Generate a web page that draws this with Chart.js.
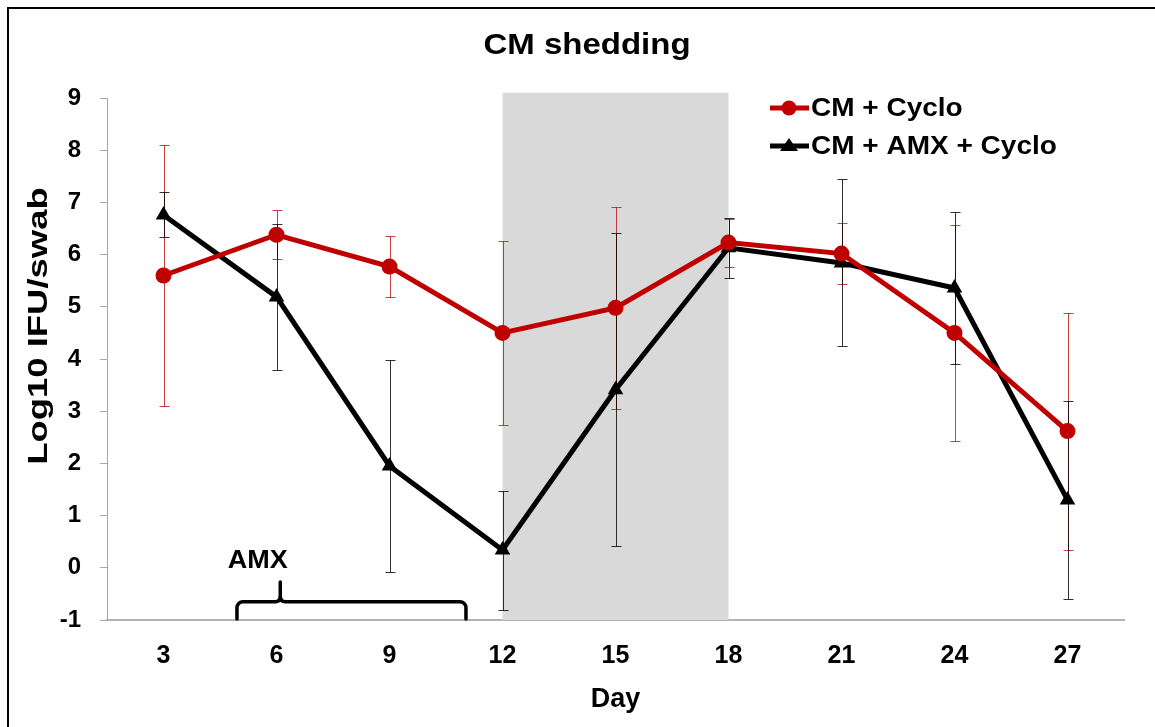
<!DOCTYPE html>
<html>
<head>
<meta charset="utf-8">
<script src="https://cdn.jsdelivr.net/npm/chart.js@4"></script>
<style>
  html, body { margin: 0; padding: 0; background: #fff; overflow: hidden; }
  #wrap { position: relative; width: 1155px; height: 727px; }
  #frame { position: absolute; left: 7px; top: 7px; width: 1160px; height: 740px; border: 2px solid #000; pointer-events: none; }
</style>
</head>
<body>
<div id="wrap">
  <canvas id="chart" width="1155" height="727"></canvas>
  <div id="frame"></div>
</div>
<script>
const days = [3, 6, 9, 12, 15, 18, 21, 24, 27];
const cycloMean = [5.6, 6.38, 5.77, 4.5, 4.98, 6.23, 6.02, 4.5, 2.62];
const cycloErr = [2.5, 0.47, 0.59, 1.76, 1.93, 0.46, 0.58, 2.07, 2.27];
const amxMean = [6.76, 5.19, 1.95, 0.34, 3.41, 6.13, 5.84, 5.36, 1.3];
const amxErr = [0.43, 1.4, 2.04, 1.14, 3.0, 0.58, 1.6, 1.45, 1.9];
const seriesNames = ['CM + Cyclo', 'CM + AMX + Cyclo'];
const shadeDays = [12, 18];
const amxDays = [4.95, 11.03];

const RED = '#C00000';
const FONT = '"Liberation Sans", Arial, sans-serif';

// text a bit wider than the font gives, like the original
function wideText(ctx, text, x, y, sx) {
    ctx.save();
    ctx.translate(x, y);
    ctx.scale(sx, 1);
    ctx.fillText(text, 0, 0);
    ctx.restore();
}

// gray box + error bars drawn under the lines
const backdrop = {
    id: 'backdrop',
    beforeDatasetsDraw(chart) {
        const ctx = chart.ctx;
        const x = chart.scales.x, y = chart.scales.y;
        ctx.save();
        ctx.fillStyle = '#D9D9D9';
        const x0 = x.getPixelForValue(shadeDays[0]);
        const x1 = x.getPixelForValue(shadeDays[1]);
        const yTop = y.getPixelForValue(9.1);
        const yBot = y.getPixelForValue(-1);
        ctx.fillRect(x0, yTop, x1 - x0, yBot - yTop);

        const bars = [[cycloMean, cycloErr, 'rgba(192,0,0,0.75)'], [amxMean, amxErr, 'rgba(0,0,0,0.8)']];
        bars.forEach(([mean, err, col]) => {
            ctx.strokeStyle = col;
            ctx.lineWidth = 1;
            days.forEach((d, i) => {
                const px = Math.round(x.getPixelForValue(d)) + 0.5;
                const hi = Math.round(y.getPixelForValue(mean[i] + err[i])) + 0.5;
                const lo = Math.round(y.getPixelForValue(mean[i] - err[i])) + 0.5;
                ctx.beginPath();
                ctx.moveTo(px, hi); ctx.lineTo(px, lo);
                ctx.moveTo(px - 5, hi); ctx.lineTo(px + 5, hi);
                ctx.moveTo(px - 5, lo); ctx.lineTo(px + 5, lo);
                ctx.stroke();
            });
        });
        ctx.restore();
    }
};

// title, legend, axis title, AMX bracket
const extras = {
    id: 'extras',
    afterDraw(chart) {
        const ctx = chart.ctx;
        const x = chart.scales.x, y = chart.scales.y;
        ctx.save();
        ctx.fillStyle = '#000';
        ctx.textAlign = 'center';
        ctx.textBaseline = 'middle';
        ctx.font = 'bold 30px ' + FONT;
        wideText(ctx, 'CM shedding', 587, 46, 1.1);

        ctx.save();
        ctx.translate(40, 326);
        ctx.rotate(-Math.PI / 2);
        ctx.font = 'bold 27px ' + FONT;
        wideText(ctx, 'Log10 IFU/swab', 0, 0, 1.35);
        ctx.restore();

        // legend
        const rows = [[RED, 'circle', 108], ['#000', 'triangle', 146]];
        ctx.font = 'bold 25px ' + FONT;
        ctx.textAlign = 'left';
        rows.forEach(([col, shape, ly], i) => {
            ctx.strokeStyle = col;
            ctx.fillStyle = col;
            ctx.lineWidth = 5;
            ctx.beginPath();
            ctx.moveTo(770, ly); ctx.lineTo(809, ly);
            ctx.stroke();
            ctx.beginPath();
            if (shape === 'circle') {
                ctx.arc(789, ly, 7.5, 0, Math.PI * 2);
            } else {
                ctx.moveTo(789, ly - 8); ctx.lineTo(798, ly + 5); ctx.lineTo(780, ly + 5); ctx.closePath();
            }
            ctx.fill();
            ctx.fillStyle = '#000';
            wideText(ctx, seriesNames[i], 811, ly + 1, 1.12);
        });

        // AMX bracket
        const bx0 = x.getPixelForValue(amxDays[0]);
        const bx1 = x.getPixelForValue(amxDays[1]);
        const bxm = x.getPixelForValue(6.1);
        const bBase = y.getPixelForValue(-1) - 1;
        const bMid = y.getPixelForValue(-0.65);
        const bPeak = y.getPixelForValue(-0.27);
        ctx.strokeStyle = '#000';
        ctx.lineWidth = 3.5;
        ctx.lineCap = 'round';
        ctx.beginPath();
        ctx.moveTo(bx0, bBase);
        ctx.arcTo(bx0, bMid, bx0 + 8, bMid, 6);
        ctx.lineTo(bxm - 5, bMid);
        ctx.quadraticCurveTo(bxm, bMid, bxm, bMid - 6);
        ctx.lineTo(bxm, bPeak);
        ctx.moveTo(bxm, bMid - 6);
        ctx.quadraticCurveTo(bxm, bMid, bxm + 5, bMid);
        ctx.arcTo(bx1, bMid, bx1, bMid + 8, 6);
        ctx.lineTo(bx1, bBase);
        ctx.stroke();
        ctx.fillStyle = '#000';
        ctx.textAlign = 'center';
        ctx.font = 'bold 25px ' + FONT;
        wideText(ctx, 'AMX', x.getPixelForValue(5.5), y.getPixelForValue(0.13), 1.08);
        ctx.restore();
    }
};

new Chart(document.getElementById('chart'), {
    type: 'line',
    data: {
        datasets: [
            {
                label: seriesNames[0],
                data: days.map((d, i) => ({ x: d, y: cycloMean[i] })),
                borderColor: RED,
                backgroundColor: RED,
                borderWidth: 5,
                pointStyle: 'circle',
                pointRadius: 8,
                pointBorderWidth: 0,
                tension: 0
            },
            {
                label: seriesNames[1],
                data: days.map((d, i) => ({ x: d, y: amxMean[i] })),
                borderColor: '#000',
                backgroundColor: '#000',
                borderWidth: 5,
                pointStyle: 'triangle',
                pointRadius: 9,
                pointBorderWidth: 0,
                tension: 0
            }
        ]
    },
    options: {
        responsive: false,
        animation: false,
        layout: { padding: { top: 98, right: 31, left: 0, bottom: 0 } },
        scales: {
            x: {
                type: 'linear',
                min: 1.5,
                max: 28.5,
                afterBuildTicks: scale => { scale.ticks = days.map(v => ({ value: v })); },
                afterFit: scale => { scale.height = 107; },
                grid: { display: false, drawTicks: false },
                border: { color: '#B3B3B3', width: 2 },
                ticks: { color: '#000', padding: 21, font: { family: FONT, size: 25, weight: 'bold' } },
                title: { display: true, text: 'Day', color: '#000', padding: { top: 6, bottom: 11 }, font: { family: FONT, size: 27, weight: 'bold' } }
            },
            y: {
                min: -1,
                max: 9,
                afterFit: scale => { scale.width = 107; },
                grid: { drawOnChartArea: false, tickLength: 7, color: '#A6A6A6' },
                border: { color: '#A6A6A6', width: 1 },
                ticks: { stepSize: 1, color: '#000', padding: 19, font: { family: FONT, size: 24, weight: 'bold' } }
            }
        },
        plugins: {
            legend: { display: false },
            tooltip: { enabled: false }
        }
    },
    plugins: [backdrop, extras]
});
</script>
</body>
</html>
